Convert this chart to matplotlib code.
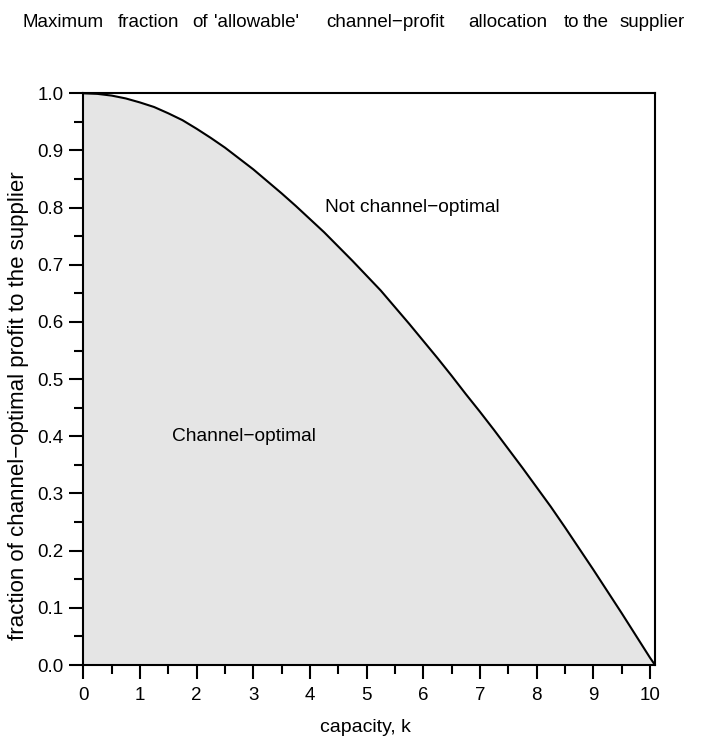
import matplotlib
matplotlib.use("Agg")
import matplotlib.pyplot as plt
from matplotlib.ticker import MultipleLocator, FormatStrFormatter

plt.rcParams['font.family'] = ['Liberation Sans', 'DejaVu Sans']

# capacity k and max fraction of channel-optimal profit to the supplier
capacity = [0.0, 0.25, 0.5, 0.75, 1.0, 1.25, 1.5, 1.75, 2.0, 2.25, 2.5, 2.75,
            3.0, 3.25, 3.5, 3.75, 4.0, 4.25, 4.5, 4.75, 5.0, 5.25, 5.5, 5.75,
            6.0, 6.25, 6.5, 6.75, 7.0, 7.25, 7.5, 7.75, 8.0, 8.25, 8.5, 8.75,
            9.0, 9.25, 9.5, 9.75, 10.0, 10.09]
fraction = [1.000, 0.999, 0.996, 0.991, 0.984, 0.976, 0.965, 0.953, 0.938,
            0.922, 0.905, 0.886, 0.867, 0.846, 0.825, 0.803, 0.780, 0.757,
            0.732, 0.707, 0.681, 0.655, 0.626, 0.597, 0.567, 0.537, 0.506,
            0.474, 0.443, 0.411, 0.378, 0.345, 0.311, 0.277, 0.241, 0.204,
            0.167, 0.129, 0.091, 0.052, 0.013, 0.000]

x_ticks = [0, 1, 2, 3, 4, 5, 6, 7, 8, 9, 10]
y_ticks = [0.0, 0.1, 0.2, 0.3, 0.4, 0.5, 0.6, 0.7, 0.8, 0.9, 1.0]

title_words = ["Maximum", "fraction", "of", "'allowable'", "channel\u2212profit",
               "allocation", "to", "the", "supplier"]
title_x_px = [22, 118, 192, 214, 326, 468, 564, 583, 620]
xlabel = "capacity, k"
ylabel = "fraction of channel\u2212optimal profit to the supplier"
label_in = "Channel\u2212optimal"
label_out = "Not channel\u2212optimal"

W, H = 708, 742
fig = plt.figure(figsize=(W/100, H/100), dpi=100)
ax = fig.add_axes([83.3/W, 1-665/H, (655-83.3)/W, (665-93.3)/H])

ax.fill_between(capacity, 0, fraction, color='#e5e5e5', linewidth=0)
ax.plot(capacity, fraction, color='black', lw=1.5)

ax.set_xlim(0, 10.09)
ax.set_ylim(0, 1)
ax.set_xticks(x_ticks)
ax.set_yticks(y_ticks)
ax.xaxis.set_minor_locator(MultipleLocator(0.5))
ax.yaxis.set_minor_locator(MultipleLocator(0.05))
ax.yaxis.set_major_formatter(FormatStrFormatter('%.1f'))
ax.tick_params(which='major', direction='out', length=10, width=1.5, labelsize=13.5, pad=4)
ax.tick_params(which='minor', direction='out', length=6.5, width=1.5)
ax.tick_params(axis='x', which='major', pad=6)
for s in ax.spines.values():
    s.set_linewidth(1.5)

ax.set_xlabel(xlabel, fontsize=14)
ax.xaxis.set_label_coords(0.493, -0.095)

fig.text(19/W, 1-406/H, ylabel, fontsize=16, rotation=90, ha='center', va='center')

ax.text(4.27, 0.80, label_out, fontsize=13.8, ha='left', va='center')
ax.text(1.565, 0.399, label_in, fontsize=13.8, ha='left', va='center')

for w, xp in zip(title_words, title_x_px):
    fig.text(xp/W, 1-27/H, w, fontsize=13.5, ha='left', va='baseline')

fig.savefig('out.png', dpi=100)
